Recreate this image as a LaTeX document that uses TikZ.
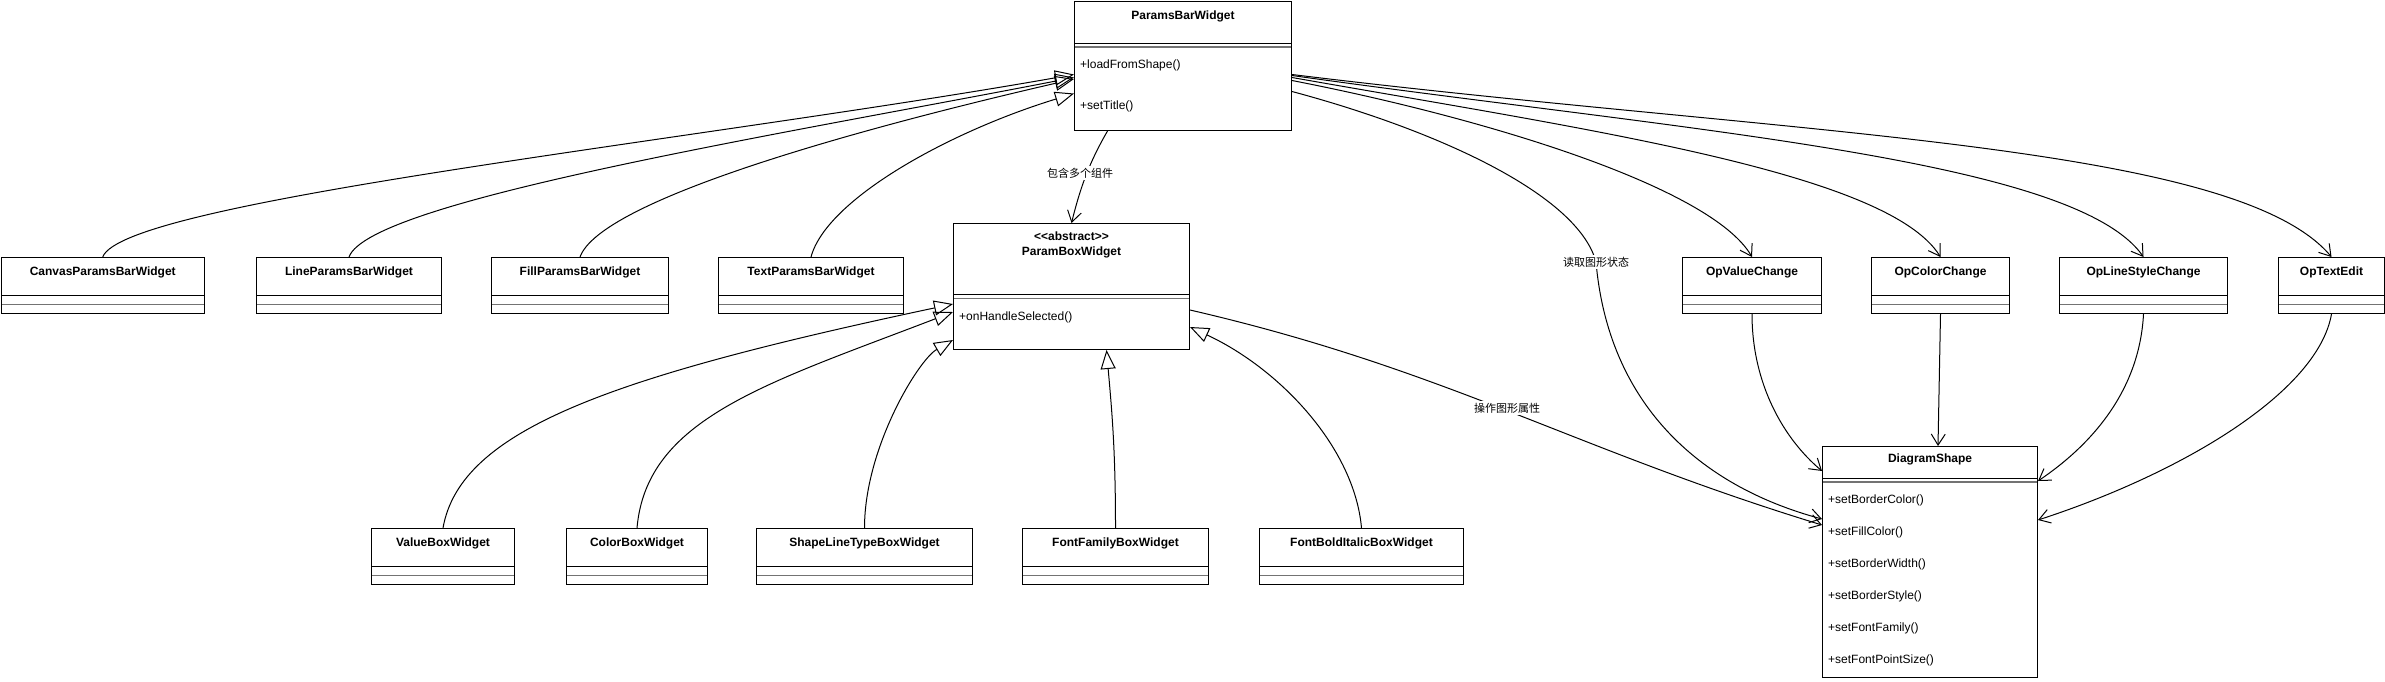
\documentclass[tikz,border=0pt]{standalone}
\usepackage{fontspec}
\newfontfamily\umlfont{Liberation Sans}
\newfontfamily\cjk{Noto Sans CJK SC}
\usetikzlibrary{arrows.meta}

\tikzset{
  cls/.style={draw, line width=1pt, anchor=north west, inner sep=0pt, minimum height=56pt},
  sepline/.style={draw=black!55, line width=1.6pt},
  compart/.style 2 args={path picture={
      \draw[line width=1pt] ([yshift=-#1]path picture bounding box.north west) -- ([yshift=-#1]path picture bounding box.north east);
      \draw[sepline] ([yshift=-#2]path picture bounding box.north west) -- ([yshift=-#2]path picture bounding box.north east);}},
  emptycls/.style={cls, compart={38pt}{47pt}},
  clsname/.style={anchor=base, font=\umlfont\bfseries\fontsize{12}{14}\selectfont, inner sep=0pt},
  method/.style={anchor=base west, font=\umlfont\fontsize{12}{14}\selectfont, inner sep=0pt},
  edgelabel/.style={font=\cjk\fontsize{11}{13}\selectfont, fill=white, inner sep=1.5pt},
  inherit/.style={line width=1pt, -{Triangle[open, length=19pt, width=15pt]}},
  uses/.style={line width=1pt, -{Straight Barb[length=11pt, width=14pt]}}
}

\begin{document}
\begin{tikzpicture}[x=1pt, y=1pt]
  \useasboundingbox (0,0) rectangle (2385,-681);

  \node[cls, compart={42.5pt}{46pt}, minimum width=217pt, minimum height=129.5pt] (pbar) at (1074,-0.5) {};
  \node[clsname] (pbarname) at ([yshift=-18.5pt]pbar.north) {ParamsBarWidget};
  \node[method] (pbarm1) at ([xshift=6pt,yshift=-67.5pt]pbar.north west) {+loadFromShape()};
  \node[method] (pbarm2) at ([xshift=6pt,yshift=-108.5pt]pbar.north west) {+setTitle()};

  \node[cls, compart={71pt}{75pt}, minimum width=236pt, minimum height=126pt] (pbox) at (953,-223) {};
  \node[clsname] (pboxstereo) at ([yshift=-17.5pt]pbox.north) {<{}<abstract>{}>};
  \node[clsname] (pboxname) at ([yshift=-32.5pt]pbox.north) {ParamBoxWidget};
  \node[method] (pboxm1) at ([xshift=6pt,yshift=-97.5pt]pbox.north west) {+onHandleSelected()};

  \node[cls, compart={32pt}{35.5pt}, minimum width=215pt, minimum height=231pt] (ds) at (1822,-446) {};
  \node[clsname] (dsname) at ([yshift=-16.5pt]ds.north) {DiagramShape};
  \node[method] (dsm1) at ([xshift=6pt,yshift=-57.5pt]ds.north west) {+setBorderColor()};
  \node[method] (dsm2) at ([xshift=6pt,yshift=-89.5pt]ds.north west) {+setFillColor()};
  \node[method] (dsm3) at ([xshift=6pt,yshift=-121.5pt]ds.north west) {+setBorderWidth()};
  \node[method] (dsm4) at ([xshift=6pt,yshift=-153.5pt]ds.north west) {+setBorderStyle()};
  \node[method] (dsm5) at ([xshift=6pt,yshift=-185.5pt]ds.north west) {+setFontFamily()};
  \node[method] (dsm6) at ([xshift=6pt,yshift=-217.5pt]ds.north west) {+setFontPointSize()};

  \node[emptycls, minimum width=203.5pt] (canvas) at (0.5,-257) {};
  \node[clsname] (canvasname) at ([yshift=-18pt]canvas.north) {CanvasParamsBarWidget};
  \node[emptycls, minimum width=185pt] (line) at (256,-257) {};
  \node[clsname] (linename) at ([yshift=-18pt]line.north) {LineParamsBarWidget};
  \node[emptycls, minimum width=177pt] (fill) at (491,-257) {};
  \node[clsname] (fillname) at ([yshift=-18pt]fill.north) {FillParamsBarWidget};
  \node[emptycls, minimum width=185pt] (text) at (718,-257) {};
  \node[clsname] (textname) at ([yshift=-18pt]text.north) {TextParamsBarWidget};

  \node[emptycls, minimum width=139pt] (opvalue) at (1682,-257) {};
  \node[clsname] (opvaluename) at ([yshift=-18pt]opvalue.north) {OpValueChange};
  \node[emptycls, minimum width=138pt] (opcolor) at (1871,-257) {};
  \node[clsname] (opcolorname) at ([yshift=-18pt]opcolor.north) {OpColorChange};
  \node[emptycls, minimum width=168pt] (opline) at (2059,-257) {};
  \node[clsname] (oplinename) at ([yshift=-18pt]opline.north) {OpLineStyleChange};
  \node[emptycls, minimum width=106pt] (optext) at (2278,-257) {};
  \node[clsname] (optextname) at ([yshift=-18pt]optext.north) {OpTextEdit};

  \node[emptycls, minimum width=143pt] (valuebox) at (371,-528) {};
  \node[clsname] (valueboxname) at ([yshift=-18pt]valuebox.north) {ValueBoxWidget};
  \node[emptycls, minimum width=141pt] (colorbox) at (566,-528) {};
  \node[clsname] (colorboxname) at ([yshift=-18pt]colorbox.north) {ColorBoxWidget};
  \node[emptycls, minimum width=216pt] (linetypebox) at (756,-528) {};
  \node[clsname] (linetypeboxname) at ([yshift=-18pt]linetypebox.north) {ShapeLineTypeBoxWidget};
  \node[emptycls, minimum width=186pt] (familybox) at (1022,-528) {};
  \node[clsname] (familyboxname) at ([yshift=-18pt]familybox.north) {FontFamilyBoxWidget};
  \node[emptycls, minimum width=204pt] (bolditalicbox) at (1259,-528) {};
  \node[clsname] (bolditalicboxname) at ([yshift=-18pt]bolditalicbox.north) {FontBoldItalicBoxWidget};

  \begin{scope}[inherit]
    \draw (canvas.north) .. controls +(70:60) and +(190:380) .. ([yshift=-74pt]pbar.north west);
    \draw (line.north) .. controls +(70:60) and +(191:300) .. ([yshift=-77pt]pbar.north west);
    \draw (fill.north) .. controls +(70:60) and +(193:230) .. ([yshift=-78.5pt]pbar.north west);
    \draw (text.north) .. controls +(75:60) and +(197:130) .. ([yshift=-93pt]pbar.north west);
    \draw (valuebox.north) .. controls +(80:100) and +(192:350) .. ([yshift=-81pt]pbox.north west);
    \draw (colorbox.north) .. controls +(85:110) and +(201:200) .. ([yshift=-89pt]pbox.north west);
    \draw (linetypebox.north) .. controls +(90:80) and +(210:40) .. ([yshift=-117pt]pbox.north west);
    \draw (familybox.north) .. controls +(90:80) and +(-85:60) .. ([xshift=35pt]pbox.south);
    \draw (bolditalicbox.north) .. controls +(95:80) and +(-25:100) .. ([yshift=-104pt]pbox.north east);
  \end{scope}

  \begin{scope}[uses]
    \draw ([xshift=-75.5pt]pbar.south) .. controls +(-120:37) and +(76:37) .. (pbox.north);
    \node[edgelabel] (containlbl) at (1080,-173) {包含多个组件};
    \draw ([yshift=-74pt]pbar.north east) .. controls +(-7:500) and +(130:150) .. (optext.north);
    \draw ([yshift=-75pt]pbar.north east) .. controls +(-8:400) and +(125:120) .. (opline.north);
    \draw ([yshift=-77pt]pbar.north east) .. controls +(-10:300) and +(122:100) .. (opcolor.north);
    \draw ([yshift=-80pt]pbar.north east) .. controls +(-11:200) and +(120:80) .. (opvalue.north);
    \coordinate (readmid) at (1596,-262);
    \draw ([yshift=-91pt]pbar.north east) .. controls +(-15:150) and +(105:70) .. (readmid)
      .. controls +(-85:140) and +(165:130) .. ([yshift=-73pt]ds.north west);
    \node[edgelabel] (readlbl) at (readmid) {读取图形状态};
    \draw ([yshift=-87pt]pbox.north east) .. controls +(-13:262) and +(163:262) .. ([yshift=-79pt]ds.north west);
    \node[edgelabel] (writelbl) at (1507,-408) {操作图形属性};
    \draw (opvalue.south) .. controls +(-90:70) and +(140:50) .. ([yshift=-25pt]ds.north west);
    \draw (opcolor.south) -- ([xshift=8pt]ds.north);
    \draw (opline.south) .. controls +(-93:80) and +(34:60) .. ([yshift=-35pt]ds.north east);
    \draw (optext.south) .. controls +(-100:80) and +(18:150) .. ([yshift=-74pt]ds.north east);
  \end{scope}
\end{tikzpicture}
\end{document}
